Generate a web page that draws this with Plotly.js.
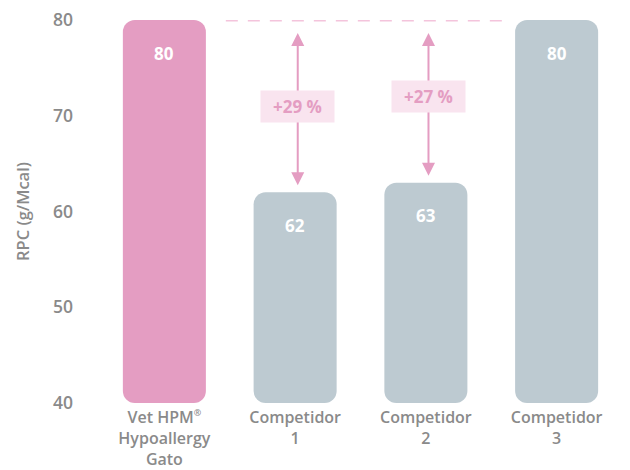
<!DOCTYPE html>
<html>
<head>
<meta charset="utf-8">
<script src="https://cdn.plot.ly/plotly-3.0.1.min.js"></script>
<style>html,body{margin:0;padding:0;background:#fff;}#chart{width:630px;height:470px;}</style>
</head>
<body>
<div id="chart"></div>
<script>
// ---- data ----
const categories = ["Vet HPM<sup><span style='font-size:9px'>®</span></sup><br>Hypoallergy<br>Gato", "Competidor<br>1", "Competidor<br>2", "Competidor<br>3"];
const values = [80, 62, 63, 80];
const barColors = ["#e49dc2", "#bdcad1", "#bdcad1", "#bdcad1"];
const yTicks = [40, 50, 60, 70, 80];
const yTitle = "RPC (g/Mcal)";
const reference = 80;           // Vet HPM value
const compared = [1, 2];        // indices of competitors with arrows

const FONT = "Open Sans, Noto Sans, sans-serif";
const GREY = "#8a8a8a";
const PINK = "#e49dc2";
const yMin = 40, yMax = 80;

const idx = categories.map((_, i) => i);

const bars = {
  type: "bar", x: idx, y: values.map(v => v - yMin), base: idx.map(() => yMin),
  marker: {color: barColors, cornerradius: 12, line: {width: 0}}, width: 0.635,
  hoverinfo: "skip", showlegend: false
};

const annotations = [];
// value labels
values.forEach((v, i) => {
  annotations.push({x: i, y: v, xref: "x", yref: "y", text: "<b>" + v + "</b>", showarrow: false,
    yanchor: "middle", yshift: -33, font: {family: FONT, size: 17, color: "#ffffff"}});
});
// arrows
compared.forEach(i => {
  annotations.push({x: i + 0.02, y: values[i], ax: i + 0.02, ay: reference, xref: "x", yref: "y", axref: "x", ayref: "y",
    text: " ", showarrow: true, arrowside: "end+start", arrowhead: 2, startarrowhead: 2,
    arrowsize: 1.3, startarrowsize: 1.3, arrowwidth: 2, arrowcolor: PINK, standoff: 7, startstandoff: 0});
});
// percentage labels
const shifts = [0, 5];
compared.forEach((i, k) => {
  const pct = Math.round((reference - values[i]) / values[i] * 100);
  annotations.push({x: i + 0.02, y: (reference + values[i]) / 2, xref: "x", yref: "y",
    text: "<b>+" + pct + " %</b>", showarrow: false, bgcolor: "#f9e4ef",
    width: 69, height: 27, borderpad: 2, yshift: shifts[k],
    font: {family: FONT, size: 17, color: PINK}});
});

const layout = {
  width: 630, height: 470,
  margin: {l: 99, r: 8, t: 20, b: 67},
  paper_bgcolor: "#ffffff", plot_bgcolor: "#ffffff",
  font: {family: FONT, color: GREY, size: 17},
  xaxis: {
    range: [-0.5, 3.5], tickvals: idx, ticktext: categories, showgrid: false, zeroline: false,
    showline: false, ticks: "", ticklabelstandoff: 3, fixedrange: true,
    tickfont: {family: FONT, size: 16, color: GREY, weight: 600}
  },
  yaxis: {
    range: [yMin, yMax], tickvals: yTicks, showgrid: false, zeroline: false, showline: false,
    ticks: "", ticklabelstandoff: 25, fixedrange: true,
    tickfont: {family: FONT, size: 17.5, color: GREY, weight: 600},
    title: {text: yTitle, standoff: 19, font: {family: FONT, size: 16.5, color: GREY, weight: 600}}
  },
  shapes: [{type: "line", xref: "x", yref: "y", x0: 0.47, x1: 2.61, y0: reference, y1: reference,
    line: {color: "#f4c4dc", width: 3, dash: "12px,10px"}, layer: "below"}],
  annotations: annotations
};

Plotly.newPlot("chart", [bars], layout, {displayModeBar: false, staticPlot: true});
</script>
</body>
</html>
